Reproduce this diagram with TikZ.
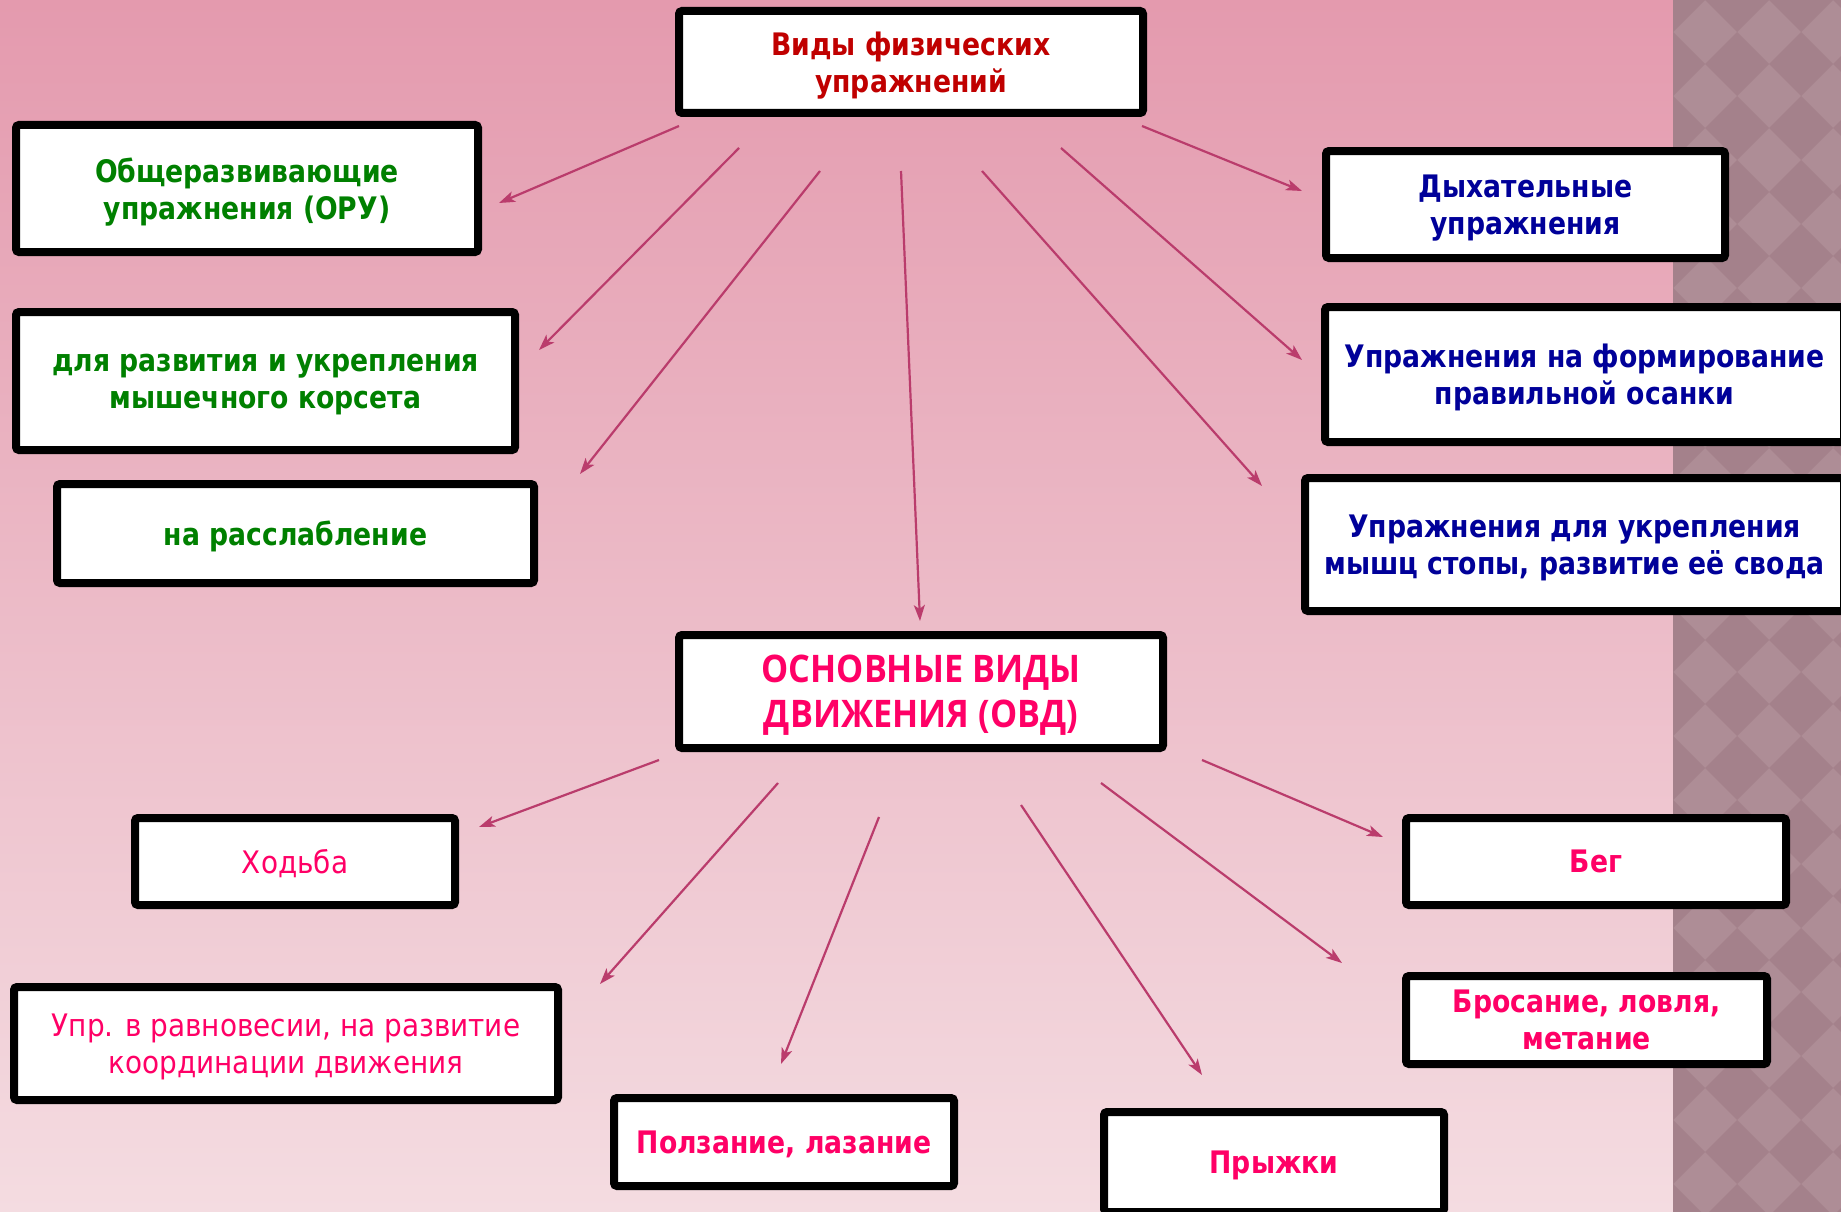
\documentclass[tikz,border=0pt]{standalone}
\usepackage{fontspec}
\usetikzlibrary{arrows.meta}
\newfontfamily\tah[FakeStretch=0.86]{DejaVu Sans}
\newfontfamily\tahr[FakeStretch=0.9]{DejaVu Sans}
\newfontfamily\seg[FakeStretch=0.9]{Open Sans}
\definecolor{bgtop}{HTML}{E49AAE}
\definecolor{bgbot}{HTML}{F4DCE1}
\definecolor{panlight}{HTML}{AE8D96}
\definecolor{pandark}{HTML}{A4818B}
\definecolor{arrowc}{HTML}{BA3C6C}
\definecolor{tgreen}{HTML}{008000}
\definecolor{tblue}{HTML}{000099}
\definecolor{tred}{HTML}{C00000}
\definecolor{tpink}{HTML}{FF0066}
\tikzset{
  box/.style={draw=black, line width=8pt, fill=white, rounded corners=3pt,
    align=center, inner sep=0pt, text depth=0pt},
  txt/.style={font=\tah\bfseries\fontsize{31}{37}\selectfont},
  txtreg/.style={font=\tahr\fontsize{31}{37}\selectfont},
  arr/.style={draw=arrowc, line width=2.2pt, -{Stealth[length=16pt,width=11pt,inset=4pt]}}
}
\begin{document}
\begin{tikzpicture}[x=1pt,y=-1pt]
\useasboundingbox (0,0) rectangle (1841,1212);
% background
\shade[top color=bgtop, bottom color=bgbot] (0,0) rectangle (1673,1212);
\fill[panlight] (1673,0) rectangle (1841,1212);
\begin{scope}
\clip (1673,0) rectangle (1841,1212);
\foreach \a in {0,...,3}{
  \foreach \b in {0,...,19}{
    \fill[pandark] ({1673+64*\a},{64*\b-32}) -- ++(32,32) -- ++(-32,32) -- ++(-32,-32) -- cycle;
  }
}
\end{scope}
% nodes
\node[box, txt, text=tred, minimum width=464, minimum height=102] (top) at (911,62) {Виды физических\\упражнений};
\node[box, txt, text=tgreen, minimum width=462, minimum height=127] (oru) at (247,188.5) {Общеразвивающие\\упражнения (ОРУ)};
\node[box, txt, text=tgreen, minimum width=499, minimum height=138] (korset) at (265.5,381) {для развития и укрепления\\мышечного корсета};
\node[box, txt, text=tgreen, minimum width=477, minimum height=99] (rassl) at (295.5,533.5) {на расслабление};
\node[box, txt, text=tblue, minimum width=399, minimum height=107] (dyh) at (1525.5,204.5) {Дыхательные\\упражнения};
\node[box, txt, text=tblue, minimum width=519, minimum height=135] (osanka) at (1584.5,374.5) {Упражнения на формирование\\правильной осанки};
\node[box, txt, text=tblue, minimum width=539, minimum height=133] (stopa) at (1574.5,544.5) {Упражнения для укрепления\\мышц стопы, развитие её свода};
\node[box, text=tpink, font=\seg\bfseries\fontsize{38}{45}\selectfont, minimum width=484, minimum height=113] (ovd) at (921,691.5) {ОСНОВНЫЕ ВИДЫ\\ДВИЖЕНИЯ (ОВД)};
\node[box, txtreg, text=tpink, minimum width=320, minimum height=87] (hod) at (295,861.5) {Ходьба};
\node[box, txt, text=tpink, minimum width=380, minimum height=87] (beg) at (1596,861.5) {Бег};
\node[box, txtreg, text=tpink, minimum width=544, minimum height=113] (ravn) at (286,1043.5) {Упр. в равновесии, на развитие\\координации движения};
\node[box, txt, text=tpink, minimum width=340, minimum height=88] (polz) at (784,1142) {Ползание, лазание};
\node[box, txt, text=tpink, minimum width=340, minimum height=100] (pryg) at (1274,1162) {Прыжки};
\node[box, txt, text=tpink, minimum width=361, minimum height=88] (bros) at (1586.5,1020) {Бросание, ловля,\\метание};
% arrow end points
\coordinate (a1s) at (679,126); \coordinate (a1e) at (499,203);
\coordinate (a2s) at (739,148); \coordinate (a2e) at (539,350);
\coordinate (a3s) at (820,171); \coordinate (a3e) at (580,474);
\coordinate (a4s) at (901,171); \coordinate (a4e) at (920,621);
\coordinate (a5s) at (982,171); \coordinate (a5e) at (1262,486);
\coordinate (a6s) at (1061,148); \coordinate (a6e) at (1302,360);
\coordinate (a7s) at (1142,126); \coordinate (a7e) at (1302,191);
\coordinate (b1s) at (659,760); \coordinate (b1e) at (479,827);
\coordinate (b2s) at (778,783); \coordinate (b2e) at (600,984);
\coordinate (b3s) at (879,817); \coordinate (b3e) at (781,1064);
\coordinate (b4s) at (1021,805); \coordinate (b4e) at (1202,1075);
\coordinate (b5s) at (1101,783); \coordinate (b5e) at (1342,963);
\coordinate (b6s) at (1202,760); \coordinate (b6e) at (1383,837);
\foreach \p in {a1,a2,a3,a4,a5,a6,a7,b1,b2,b3,b4,b5,b6}{
  \draw[arr] (\p s) -- (\p e);
}
\end{tikzpicture}
\end{document}
